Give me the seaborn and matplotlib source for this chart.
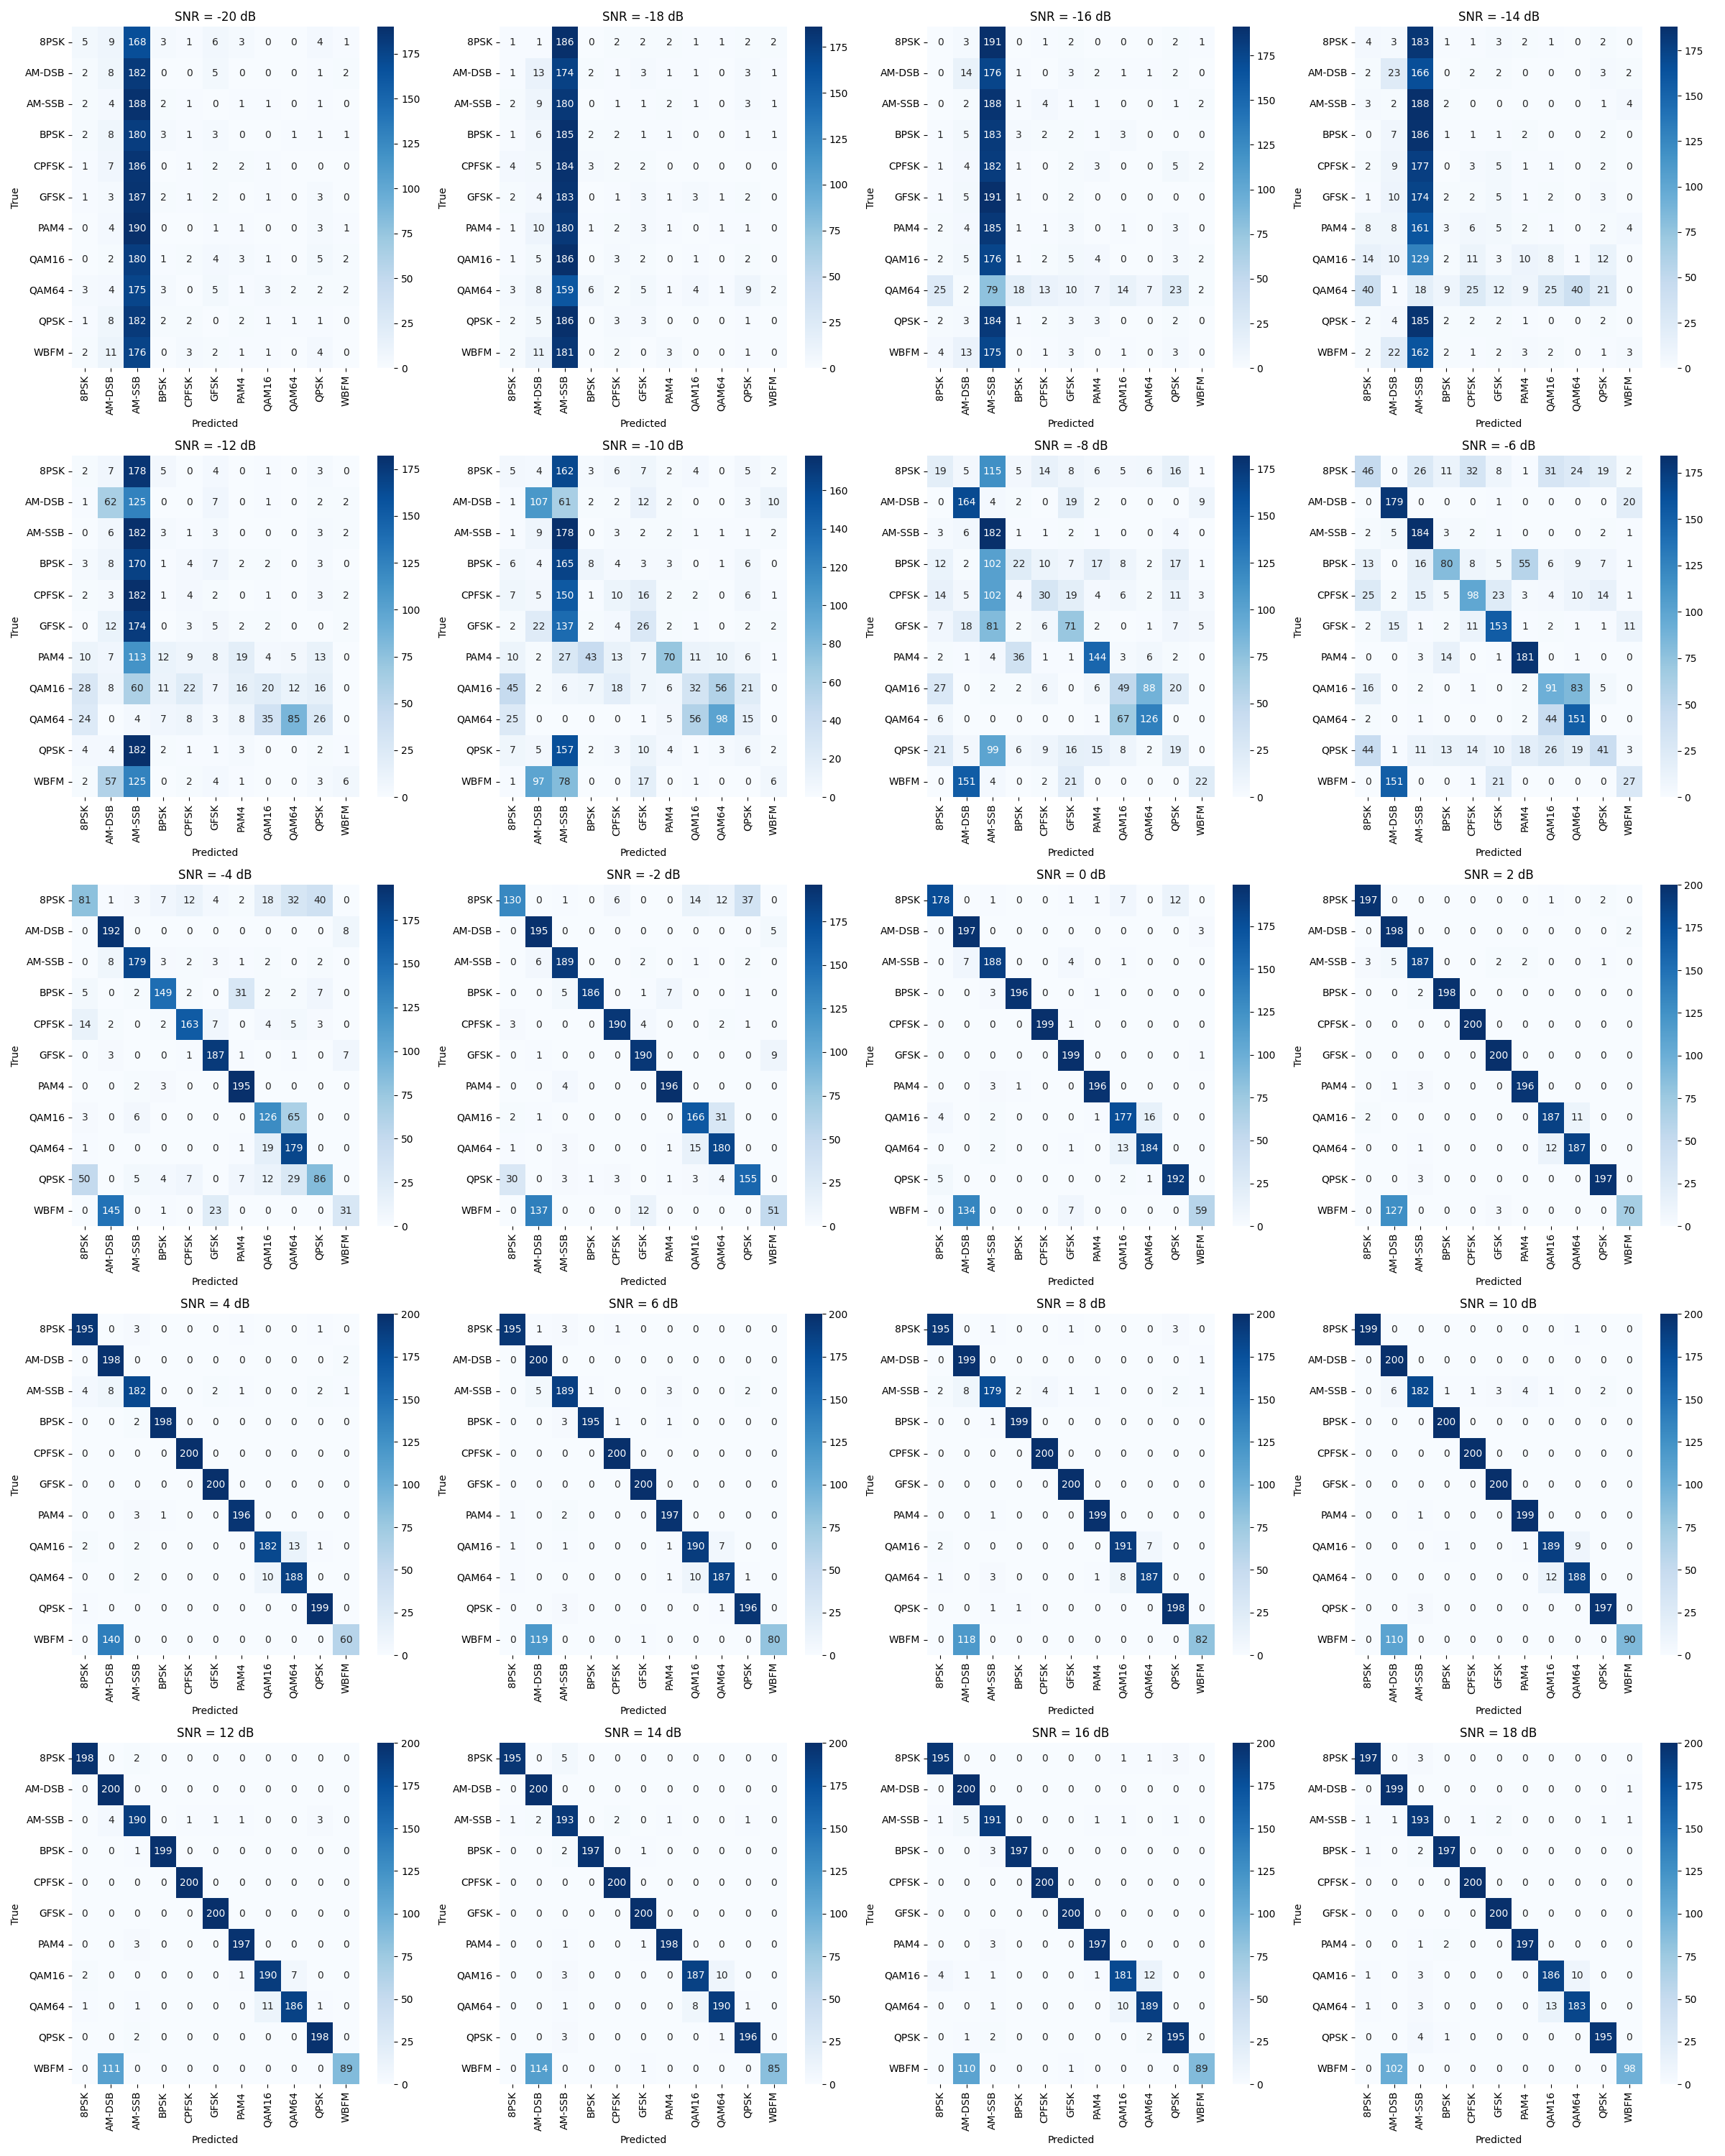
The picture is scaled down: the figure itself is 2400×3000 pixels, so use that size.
import numpy as np
import seaborn as sns
import matplotlib
matplotlib.use("Agg")
import matplotlib.pyplot as plt

classes = ['8PSK', 'AM-DSB', 'AM-SSB', 'BPSK', 'CPFSK', 'GFSK',
           'PAM4', 'QAM16', 'QAM64', 'QPSK', 'WBFM']
snrs = [-20, -18, -16, -14, -12, -10, -8, -6, -4, -2,
        0, 2, 4, 6, 8, 10, 12, 14, 16, 18]

# confusion matrices (rows = true, cols = predicted)
cm_m20 = [[5, 9, 168, 3, 1, 6, 3, 0, 0, 4, 1],
          [2, 8, 182, 0, 0, 5, 0, 0, 0, 1, 2],
          [2, 4, 188, 2, 1, 0, 1, 1, 0, 1, 0],
          [2, 8, 180, 3, 1, 3, 0, 0, 1, 1, 1],
          [1, 7, 186, 0, 1, 2, 2, 1, 0, 0, 0],
          [1, 3, 187, 2, 1, 2, 0, 1, 0, 3, 0],
          [0, 4, 190, 0, 0, 1, 1, 0, 0, 3, 1],
          [0, 2, 180, 1, 2, 4, 3, 1, 0, 5, 2],
          [3, 4, 175, 3, 0, 5, 1, 3, 2, 2, 2],
          [1, 8, 182, 2, 2, 0, 2, 1, 1, 1, 0],
          [2, 11, 176, 0, 3, 2, 1, 1, 0, 4, 0]]

cm_m18 = [[1, 1, 186, 0, 2, 2, 2, 1, 1, 2, 2],
          [1, 13, 174, 2, 1, 3, 1, 1, 0, 3, 1],
          [2, 9, 180, 0, 1, 1, 2, 1, 0, 3, 1],
          [1, 6, 185, 2, 2, 1, 1, 0, 0, 1, 1],
          [4, 5, 184, 3, 2, 2, 0, 0, 0, 0, 0],
          [2, 4, 183, 0, 1, 3, 1, 3, 1, 2, 0],
          [1, 10, 180, 1, 2, 3, 1, 0, 1, 1, 0],
          [1, 5, 186, 0, 3, 2, 0, 1, 0, 2, 0],
          [3, 8, 159, 6, 2, 5, 1, 4, 1, 9, 2],
          [2, 5, 186, 0, 3, 3, 0, 0, 0, 1, 0],
          [2, 11, 181, 0, 2, 0, 3, 0, 0, 1, 0]]

cm_m16 = [[0, 3, 191, 0, 1, 2, 0, 0, 0, 2, 1],
          [0, 14, 176, 1, 0, 3, 2, 1, 1, 2, 0],
          [0, 2, 188, 1, 4, 1, 1, 0, 0, 1, 2],
          [1, 5, 183, 3, 2, 2, 1, 3, 0, 0, 0],
          [1, 4, 182, 1, 0, 2, 3, 0, 0, 5, 2],
          [1, 5, 191, 1, 0, 2, 0, 0, 0, 0, 0],
          [2, 4, 185, 1, 1, 3, 0, 1, 0, 3, 0],
          [2, 5, 176, 1, 2, 5, 4, 0, 0, 3, 2],
          [25, 2, 79, 18, 13, 10, 7, 14, 7, 23, 2],
          [2, 3, 184, 1, 2, 3, 3, 0, 0, 2, 0],
          [4, 13, 175, 0, 1, 3, 0, 1, 0, 3, 0]]

cm_m14 = [[4, 3, 183, 1, 1, 3, 2, 1, 0, 2, 0],
          [2, 23, 166, 0, 2, 2, 0, 0, 0, 3, 2],
          [3, 2, 188, 2, 0, 0, 0, 0, 0, 1, 4],
          [0, 7, 186, 1, 1, 1, 2, 0, 0, 2, 0],
          [2, 9, 177, 0, 3, 5, 1, 1, 0, 2, 0],
          [1, 10, 174, 2, 2, 5, 1, 2, 0, 3, 0],
          [8, 8, 161, 3, 6, 5, 2, 1, 0, 2, 4],
          [14, 10, 129, 2, 11, 3, 10, 8, 1, 12, 0],
          [40, 1, 18, 9, 25, 12, 9, 25, 40, 21, 0],
          [2, 4, 185, 2, 2, 2, 1, 0, 0, 2, 0],
          [2, 22, 162, 2, 1, 2, 3, 2, 0, 1, 3]]

cm_m12 = [[2, 7, 178, 5, 0, 4, 0, 1, 0, 3, 0],
          [1, 62, 125, 0, 0, 7, 0, 1, 0, 2, 2],
          [0, 6, 182, 3, 1, 3, 0, 0, 0, 3, 2],
          [3, 8, 170, 1, 4, 7, 2, 2, 0, 3, 0],
          [2, 3, 182, 1, 4, 2, 0, 1, 0, 3, 2],
          [0, 12, 174, 0, 3, 5, 2, 2, 0, 0, 2],
          [10, 7, 113, 12, 9, 8, 19, 4, 5, 13, 0],
          [28, 8, 60, 11, 22, 7, 16, 20, 12, 16, 0],
          [24, 0, 4, 7, 8, 3, 8, 35, 85, 26, 0],
          [4, 4, 182, 2, 1, 1, 3, 0, 0, 2, 1],
          [2, 57, 125, 0, 2, 4, 1, 0, 0, 3, 6]]

cm_m10 = [[5, 4, 162, 3, 6, 7, 2, 4, 0, 5, 2],
          [1, 107, 61, 2, 2, 12, 2, 0, 0, 3, 10],
          [1, 9, 178, 0, 3, 2, 2, 1, 1, 1, 2],
          [6, 4, 165, 8, 4, 3, 3, 0, 1, 6, 0],
          [7, 5, 150, 1, 10, 16, 2, 2, 0, 6, 1],
          [2, 22, 137, 2, 4, 26, 2, 1, 0, 2, 2],
          [10, 2, 27, 43, 13, 7, 70, 11, 10, 6, 1],
          [45, 2, 6, 7, 18, 7, 6, 32, 56, 21, 0],
          [25, 0, 0, 0, 0, 1, 5, 56, 98, 15, 0],
          [7, 5, 157, 2, 3, 10, 4, 1, 3, 6, 2],
          [1, 97, 78, 0, 0, 17, 0, 1, 0, 0, 6]]

cm_m8 = [[19, 5, 115, 5, 14, 8, 6, 5, 6, 16, 1],
         [0, 164, 4, 2, 0, 19, 2, 0, 0, 0, 9],
         [3, 6, 182, 1, 1, 2, 1, 0, 0, 4, 0],
         [12, 2, 102, 22, 10, 7, 17, 8, 2, 17, 1],
         [14, 5, 102, 4, 30, 19, 4, 6, 2, 11, 3],
         [7, 18, 81, 2, 6, 71, 2, 0, 1, 7, 5],
         [2, 1, 4, 36, 1, 1, 144, 3, 6, 2, 0],
         [27, 0, 2, 2, 6, 0, 6, 49, 88, 20, 0],
         [6, 0, 0, 0, 0, 0, 1, 67, 126, 0, 0],
         [21, 5, 99, 6, 9, 16, 15, 8, 2, 19, 0],
         [0, 151, 4, 0, 2, 21, 0, 0, 0, 0, 22]]

cm_m6 = [[46, 0, 26, 11, 32, 8, 1, 31, 24, 19, 2],
         [0, 179, 0, 0, 0, 1, 0, 0, 0, 0, 20],
         [2, 5, 184, 3, 2, 1, 0, 0, 0, 2, 1],
         [13, 0, 16, 80, 8, 5, 55, 6, 9, 7, 1],
         [25, 2, 15, 5, 98, 23, 3, 4, 10, 14, 1],
         [2, 15, 1, 2, 11, 153, 1, 2, 1, 1, 11],
         [0, 0, 3, 14, 0, 1, 181, 0, 1, 0, 0],
         [16, 0, 2, 0, 1, 0, 2, 91, 83, 5, 0],
         [2, 0, 1, 0, 0, 0, 2, 44, 151, 0, 0],
         [44, 1, 11, 13, 14, 10, 18, 26, 19, 41, 3],
         [0, 151, 0, 0, 1, 21, 0, 0, 0, 0, 27]]

cm_m4 = [[81, 1, 3, 7, 12, 4, 2, 18, 32, 40, 0],
         [0, 192, 0, 0, 0, 0, 0, 0, 0, 0, 8],
         [0, 8, 179, 3, 2, 3, 1, 2, 0, 2, 0],
         [5, 0, 2, 149, 2, 0, 31, 2, 2, 7, 0],
         [14, 2, 0, 2, 163, 7, 0, 4, 5, 3, 0],
         [0, 3, 0, 0, 1, 187, 1, 0, 1, 0, 7],
         [0, 0, 2, 3, 0, 0, 195, 0, 0, 0, 0],
         [3, 0, 6, 0, 0, 0, 0, 126, 65, 0, 0],
         [1, 0, 0, 0, 0, 0, 1, 19, 179, 0, 0],
         [50, 0, 5, 4, 7, 0, 7, 12, 29, 86, 0],
         [0, 145, 0, 1, 0, 23, 0, 0, 0, 0, 31]]

cm_m2 = [[130, 0, 1, 0, 6, 0, 0, 14, 12, 37, 0],
         [0, 195, 0, 0, 0, 0, 0, 0, 0, 0, 5],
         [0, 6, 189, 0, 0, 2, 0, 1, 0, 2, 0],
         [0, 0, 5, 186, 0, 1, 7, 0, 0, 1, 0],
         [3, 0, 0, 0, 190, 4, 0, 0, 2, 1, 0],
         [0, 1, 0, 0, 0, 190, 0, 0, 0, 0, 9],
         [0, 0, 4, 0, 0, 0, 196, 0, 0, 0, 0],
         [2, 1, 0, 0, 0, 0, 0, 166, 31, 0, 0],
         [1, 0, 3, 0, 0, 0, 1, 15, 180, 0, 0],
         [30, 0, 3, 1, 3, 0, 1, 3, 4, 155, 0],
         [0, 137, 0, 0, 0, 12, 0, 0, 0, 0, 51]]

cm_0 = [[178, 0, 1, 0, 0, 1, 1, 7, 0, 12, 0],
        [0, 197, 0, 0, 0, 0, 0, 0, 0, 0, 3],
        [0, 7, 188, 0, 0, 4, 0, 1, 0, 0, 0],
        [0, 0, 3, 196, 0, 0, 1, 0, 0, 0, 0],
        [0, 0, 0, 0, 199, 1, 0, 0, 0, 0, 0],
        [0, 0, 0, 0, 0, 199, 0, 0, 0, 0, 1],
        [0, 0, 3, 1, 0, 0, 196, 0, 0, 0, 0],
        [4, 0, 2, 0, 0, 0, 1, 177, 16, 0, 0],
        [0, 0, 2, 0, 0, 1, 0, 13, 184, 0, 0],
        [5, 0, 0, 0, 0, 0, 0, 2, 1, 192, 0],
        [0, 134, 0, 0, 0, 7, 0, 0, 0, 0, 59]]

cm_2 = [[197, 0, 0, 0, 0, 0, 0, 1, 0, 2, 0],
        [0, 198, 0, 0, 0, 0, 0, 0, 0, 0, 2],
        [3, 5, 187, 0, 0, 2, 2, 0, 0, 1, 0],
        [0, 0, 2, 198, 0, 0, 0, 0, 0, 0, 0],
        [0, 0, 0, 0, 200, 0, 0, 0, 0, 0, 0],
        [0, 0, 0, 0, 0, 200, 0, 0, 0, 0, 0],
        [0, 1, 3, 0, 0, 0, 196, 0, 0, 0, 0],
        [2, 0, 0, 0, 0, 0, 0, 187, 11, 0, 0],
        [0, 0, 1, 0, 0, 0, 0, 12, 187, 0, 0],
        [0, 0, 3, 0, 0, 0, 0, 0, 0, 197, 0],
        [0, 127, 0, 0, 0, 3, 0, 0, 0, 0, 70]]

cm_4 = [[195, 0, 3, 0, 0, 0, 1, 0, 0, 1, 0],
        [0, 198, 0, 0, 0, 0, 0, 0, 0, 0, 2],
        [4, 8, 182, 0, 0, 2, 1, 0, 0, 2, 1],
        [0, 0, 2, 198, 0, 0, 0, 0, 0, 0, 0],
        [0, 0, 0, 0, 200, 0, 0, 0, 0, 0, 0],
        [0, 0, 0, 0, 0, 200, 0, 0, 0, 0, 0],
        [0, 0, 3, 1, 0, 0, 196, 0, 0, 0, 0],
        [2, 0, 2, 0, 0, 0, 0, 182, 13, 1, 0],
        [0, 0, 2, 0, 0, 0, 0, 10, 188, 0, 0],
        [1, 0, 0, 0, 0, 0, 0, 0, 0, 199, 0],
        [0, 140, 0, 0, 0, 0, 0, 0, 0, 0, 60]]

cm_6 = [[195, 1, 3, 0, 1, 0, 0, 0, 0, 0, 0],
        [0, 200, 0, 0, 0, 0, 0, 0, 0, 0, 0],
        [0, 5, 189, 1, 0, 0, 3, 0, 0, 2, 0],
        [0, 0, 3, 195, 1, 0, 1, 0, 0, 0, 0],
        [0, 0, 0, 0, 200, 0, 0, 0, 0, 0, 0],
        [0, 0, 0, 0, 0, 200, 0, 0, 0, 0, 0],
        [1, 0, 2, 0, 0, 0, 197, 0, 0, 0, 0],
        [1, 0, 1, 0, 0, 0, 1, 190, 7, 0, 0],
        [1, 0, 0, 0, 0, 0, 1, 10, 187, 1, 0],
        [0, 0, 3, 0, 0, 0, 0, 0, 1, 196, 0],
        [0, 119, 0, 0, 0, 1, 0, 0, 0, 0, 80]]

cm_8 = [[195, 0, 1, 0, 0, 1, 0, 0, 0, 3, 0],
        [0, 199, 0, 0, 0, 0, 0, 0, 0, 0, 1],
        [2, 8, 179, 2, 4, 1, 1, 0, 0, 2, 1],
        [0, 0, 1, 199, 0, 0, 0, 0, 0, 0, 0],
        [0, 0, 0, 0, 200, 0, 0, 0, 0, 0, 0],
        [0, 0, 0, 0, 0, 200, 0, 0, 0, 0, 0],
        [0, 0, 1, 0, 0, 0, 199, 0, 0, 0, 0],
        [2, 0, 0, 0, 0, 0, 0, 191, 7, 0, 0],
        [1, 0, 3, 0, 0, 0, 1, 8, 187, 0, 0],
        [0, 0, 1, 1, 0, 0, 0, 0, 0, 198, 0],
        [0, 118, 0, 0, 0, 0, 0, 0, 0, 0, 82]]

cm_10 = [[199, 0, 0, 0, 0, 0, 0, 0, 1, 0, 0],
         [0, 200, 0, 0, 0, 0, 0, 0, 0, 0, 0],
         [0, 6, 182, 1, 1, 3, 4, 1, 0, 2, 0],
         [0, 0, 0, 200, 0, 0, 0, 0, 0, 0, 0],
         [0, 0, 0, 0, 200, 0, 0, 0, 0, 0, 0],
         [0, 0, 0, 0, 0, 200, 0, 0, 0, 0, 0],
         [0, 0, 1, 0, 0, 0, 199, 0, 0, 0, 0],
         [0, 0, 0, 1, 0, 0, 1, 189, 9, 0, 0],
         [0, 0, 0, 0, 0, 0, 0, 12, 188, 0, 0],
         [0, 0, 3, 0, 0, 0, 0, 0, 0, 197, 0],
         [0, 110, 0, 0, 0, 0, 0, 0, 0, 0, 90]]

cm_12 = [[198, 0, 2, 0, 0, 0, 0, 0, 0, 0, 0],
         [0, 200, 0, 0, 0, 0, 0, 0, 0, 0, 0],
         [0, 4, 190, 0, 1, 1, 1, 0, 0, 3, 0],
         [0, 0, 1, 199, 0, 0, 0, 0, 0, 0, 0],
         [0, 0, 0, 0, 200, 0, 0, 0, 0, 0, 0],
         [0, 0, 0, 0, 0, 200, 0, 0, 0, 0, 0],
         [0, 0, 3, 0, 0, 0, 197, 0, 0, 0, 0],
         [2, 0, 0, 0, 0, 0, 1, 190, 7, 0, 0],
         [1, 0, 1, 0, 0, 0, 0, 11, 186, 1, 0],
         [0, 0, 2, 0, 0, 0, 0, 0, 0, 198, 0],
         [0, 111, 0, 0, 0, 0, 0, 0, 0, 0, 89]]

cm_14 = [[195, 0, 5, 0, 0, 0, 0, 0, 0, 0, 0],
         [0, 200, 0, 0, 0, 0, 0, 0, 0, 0, 0],
         [1, 2, 193, 0, 2, 0, 1, 0, 0, 1, 0],
         [0, 0, 2, 197, 0, 1, 0, 0, 0, 0, 0],
         [0, 0, 0, 0, 200, 0, 0, 0, 0, 0, 0],
         [0, 0, 0, 0, 0, 200, 0, 0, 0, 0, 0],
         [0, 0, 1, 0, 0, 1, 198, 0, 0, 0, 0],
         [0, 0, 3, 0, 0, 0, 0, 187, 10, 0, 0],
         [0, 0, 1, 0, 0, 0, 0, 8, 190, 1, 0],
         [0, 0, 3, 0, 0, 0, 0, 0, 1, 196, 0],
         [0, 114, 0, 0, 0, 1, 0, 0, 0, 0, 85]]

cm_16 = [[195, 0, 0, 0, 0, 0, 0, 1, 1, 3, 0],
         [0, 200, 0, 0, 0, 0, 0, 0, 0, 0, 0],
         [1, 5, 191, 0, 0, 0, 1, 1, 0, 1, 0],
         [0, 0, 3, 197, 0, 0, 0, 0, 0, 0, 0],
         [0, 0, 0, 0, 200, 0, 0, 0, 0, 0, 0],
         [0, 0, 0, 0, 0, 200, 0, 0, 0, 0, 0],
         [0, 0, 3, 0, 0, 0, 197, 0, 0, 0, 0],
         [4, 1, 1, 0, 0, 0, 1, 181, 12, 0, 0],
         [0, 0, 1, 0, 0, 0, 0, 10, 189, 0, 0],
         [0, 1, 2, 0, 0, 0, 0, 0, 2, 195, 0],
         [0, 110, 0, 0, 0, 1, 0, 0, 0, 0, 89]]

cm_18 = [[197, 0, 3, 0, 0, 0, 0, 0, 0, 0, 0],
         [0, 199, 0, 0, 0, 0, 0, 0, 0, 0, 1],
         [1, 1, 193, 0, 1, 2, 0, 0, 0, 1, 1],
         [1, 0, 2, 197, 0, 0, 0, 0, 0, 0, 0],
         [0, 0, 0, 0, 200, 0, 0, 0, 0, 0, 0],
         [0, 0, 0, 0, 0, 200, 0, 0, 0, 0, 0],
         [0, 0, 1, 2, 0, 0, 197, 0, 0, 0, 0],
         [1, 0, 3, 0, 0, 0, 0, 186, 10, 0, 0],
         [1, 0, 3, 0, 0, 0, 0, 13, 183, 0, 0],
         [0, 0, 4, 1, 0, 0, 0, 0, 0, 195, 0],
         [0, 102, 0, 0, 0, 0, 0, 0, 0, 0, 98]]

matrices = [cm_m20, cm_m18, cm_m16, cm_m14, cm_m12, cm_m10, cm_m8, cm_m6,
            cm_m4, cm_m2, cm_0, cm_2, cm_4, cm_6, cm_8, cm_10,
            cm_12, cm_14, cm_16, cm_18]

fig, axes = plt.subplots(5, 4, figsize=(24, 30))

for ax, snr, cm in zip(axes.flatten(), snrs, matrices):
    sns.heatmap(np.array(cm), annot=True, fmt="d", cmap="Blues",
                xticklabels=classes, yticklabels=classes, ax=ax)
    ax.set_title("SNR = %d dB" % snr)
    ax.set_xlabel("Predicted")
    ax.set_ylabel("True")

plt.tight_layout()
plt.savefig("out.png", dpi=100)
